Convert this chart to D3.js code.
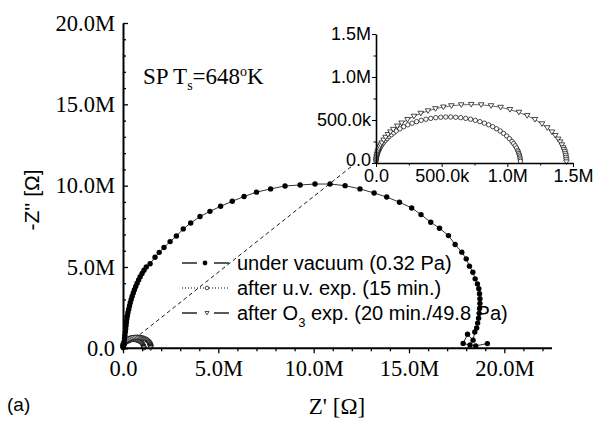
<!DOCTYPE html>
<html>
<head>
<meta charset="utf-8">
<script src="https://cdn.jsdelivr.net/npm/d3@7"></script>
<style>
  html, body { margin: 0; padding: 0; background: #fff; }
  svg { display: block; }
  .serif { font-family: "Liberation Serif", "Times New Roman", serif; }
  .sans { font-family: "Liberation Sans", Arial, sans-serif; }
</style>
</head>
<body>
<svg id="chart" width="597" height="426"></svg>
<script>
// Impedance spectra (Nyquist plot), values in MΩ
const vacuumZr = [0.02,0.04,0.06,0.08,0.10,0.12,0.14,0.16,0.18,0.20,0.23,0.26,0.30,0.34,0.38,0.43,0.48,0.54,0.60,0.67,0.74,0.82,0.90,1.00,1.10,1.22,1.42,1.68,1.90,2.15,2.47,2.80,3.16,3.55,4.04,4.56,5.12,5.73,6.35,7.00,7.74,8.50,9.29,10.07,10.86,11.65,12.43,13.17,13.83,14.50,15.14,15.63,16.14,16.60,17.07,17.42,17.77,18.00,18.17,18.35,18.47,18.59,18.66,18.70,18.72,18.72,18.70,18.68,18.65,18.60,18.55,18.45,18.36,18.07,17.84,18.20,18.50,19.11];
const vacuumZi = [0.05,0.20,0.40,0.60,0.80,1.00,1.20,1.40,1.60,1.80,2.00,2.20,2.40,2.60,2.80,3.00,3.20,3.40,3.60,3.80,4.00,4.20,4.40,4.60,4.80,5.00,5.20,5.60,5.90,6.20,6.56,6.90,7.34,7.70,8.10,8.42,8.73,9.04,9.33,9.60,9.80,9.98,10.04,10.10,10.10,10.00,9.80,9.55,9.30,8.98,8.63,8.22,7.75,7.38,6.93,6.38,5.91,5.50,5.05,4.68,4.27,3.96,3.66,3.35,3.05,2.75,2.45,2.15,1.85,1.55,1.25,1.00,0.50,0.86,0.30,0.20,0.15,0.29];

const uvZr = [0.000,0.001,0.003,0.005,0.008,0.012,0.016,0.021,0.027,0.033,0.044,0.056,0.069,0.084,0.099,0.117,0.135,0.154,0.182,0.211,0.242,0.275,0.309,0.344,0.380,0.417,0.455,0.493,0.531,0.569,0.607,0.645,0.683,0.720,0.756,0.791,0.825,0.858,0.889,0.918,0.946,0.971,0.995,1.016,1.036,1.048,1.060,1.070,1.079,1.084,1.088,1.092,1.095,1.097,1.099,1.100];
const uvZi = [0.019,0.037,0.056,0.074,0.093,0.111,0.129,0.147,0.165,0.183,0.209,0.235,0.259,0.283,0.307,0.329,0.351,0.372,0.398,0.422,0.444,0.463,0.481,0.496,0.509,0.519,0.527,0.532,0.535,0.535,0.532,0.527,0.519,0.509,0.496,0.481,0.463,0.444,0.422,0.398,0.372,0.344,0.314,0.283,0.251,0.226,0.200,0.174,0.147,0.129,0.111,0.093,0.074,0.056,0.037,0.019];

const ozoneZr = [0.000,0.002,0.004,0.007,0.011,0.016,0.022,0.028,0.035,0.044,0.058,0.073,0.091,0.110,0.131,0.162,0.195,0.240,0.289,0.341,0.396,0.453,0.513,0.574,0.649,0.725,0.801,0.876,0.949,1.020,1.088,1.151,1.210,1.264,1.304,1.340,1.365,1.387,1.402,1.415,1.425,1.431,1.437,1.441,1.445,1.447,1.449,1.450];
const ozoneZi = [0.024,0.047,0.071,0.095,0.118,0.141,0.164,0.187,0.210,0.233,0.266,0.298,0.330,0.360,0.390,0.428,0.464,0.505,0.543,0.577,0.606,0.631,0.650,0.665,0.676,0.680,0.676,0.665,0.647,0.621,0.589,0.550,0.505,0.455,0.409,0.360,0.319,0.277,0.244,0.210,0.176,0.153,0.130,0.106,0.083,0.059,0.036,0.012];

const legendLabels = ["under vacuum (0.32 Pa)", "after u.v. exp. (15 min.)", "after O3 exp. (20 min./49.8 Pa)"];

const mainTicks = [0, 5, 10, 15, 20];
const mainTickLabels = ["0.0", "5.0M", "10.0M", "15.0M", "20.0M"];
const mainMinorX = [1,2,3,4,6,7,8,9,11,12,13,14,16,17,18,19,21,22];
const mainMinorY = [1,2,3,4,6,7,8,9,11,12,13,14,16,17,18,19];
const insetTicks = [0, 0.5, 1.0, 1.5];
const insetTickLabels = ["0.0", "500.0k", "1.0M", "1.5M"];
const insetMinor = [0.25, 0.75, 1.25];

const svg = d3.select("#chart");

// ---------- main plot ----------
const x = d3.scaleLinear().domain([0, 22.5]).range([123, 552]);
const y = d3.scaleLinear().domain([0, 20]).range([348.3, 23]);

const zip = (a, b) => a.map((v, i) => [v, b[i]]);
const vacuum = zip(vacuumZr, vacuumZi);
const uv = zip(uvZr, uvZi);
const ozone = zip(ozoneZr, ozoneZi);

function triPath(cx, cy, s) {
  // downward pointing triangle
  return `M${cx - s},${cy - s * 0.75}L${cx + s},${cy - s * 0.75}L${cx},${cy + s * 0.9}Z`;
}

function drawSeries(g, sx, sy, opts) {
  const line = d3.line().x(d => sx(d[0])).y(d => sy(d[1]));
  if (opts.withVacuum) {
    g.append("path").datum(vacuum).attr("d", line)
      .attr("fill", "none").attr("stroke", "#000").attr("stroke-width", 0.8);
  }
  g.append("path").datum(uv).attr("d", line)
    .attr("fill", "none").attr("stroke", "#000").attr("stroke-width", 0.6)
    .attr("stroke-dasharray", "1,1.5");
  g.append("path").datum(ozone).attr("d", line)
    .attr("fill", "none").attr("stroke", "#000").attr("stroke-width", 0.6);

  g.append("g").selectAll("circle").data(uv).join("circle")
    .attr("cx", d => sx(d[0])).attr("cy", d => sy(d[1])).attr("r", opts.openR)
    .attr("fill", "#fff").attr("stroke", "#000").attr("stroke-width", 0.7);
  g.append("g").selectAll("path").data(ozone).join("path")
    .attr("d", d => triPath(sx(d[0]), sy(d[1]), opts.triS))
    .attr("fill", "#fff").attr("stroke", "#000").attr("stroke-width", 0.7);
  if (opts.withVacuum) {
    g.append("g").selectAll("circle").data(vacuum).join("circle")
      .attr("cx", d => sx(d[0])).attr("cy", d => sy(d[1])).attr("r", opts.dotR)
      .attr("fill", "#000");
  }
}

// dashed connector between the origin region and the enlarged view
svg.append("line")
  .attr("x1", x(0.3)).attr("y1", y(0.3))
  .attr("x2", x(12.0)).attr("y2", y(11.2))
  .attr("stroke", "#000").attr("stroke-width", 0.9)
  .attr("stroke-dasharray", "4,3");

const mainG = svg.append("g");
drawSeries(mainG, x, y, { withVacuum: true, dotR: 2.7, openR: 2.0, triS: 2.6 });

// main axes
const xAxis = svg.append("g").attr("transform", `translate(0,${y(0)})`).attr("class", "serif")
  .call(d3.axisBottom(x).tickValues(mainTicks).tickFormat((d, i) => mainTickLabels[i])
    .tickSize(5).tickSizeOuter(0).tickPadding(7));
svg.append("g").attr("transform", `translate(0,${y(0)})`)
  .call(d3.axisBottom(x).tickValues(mainMinorX).tickFormat("").tickSize(3).tickSizeOuter(0))
  .select(".domain").remove();
xAxis.select(".domain").attr("d", `M${x(0)},0H${x(22.5)}`);
xAxis.selectAll("text").attr("font-size", 22.5).attr("fill", "#000");

const yAxis = svg.append("g").attr("transform", `translate(${x(0)},0)`).attr("class", "serif")
  .call(d3.axisLeft(y).tickValues(mainTicks).tickFormat((d, i) => mainTickLabels[i])
    .tickSize(-5).tickSizeOuter(0).tickPadding(8));
svg.append("g").attr("transform", `translate(${x(0)},0)`)
  .call(d3.axisLeft(y).tickValues(mainMinorY).tickFormat("").tickSize(-3).tickSizeOuter(0))
  .select(".domain").remove();
yAxis.selectAll("text").attr("font-size", 22.5).attr("fill", "#000");

svg.selectAll(".domain").attr("stroke-width", 2);
svg.selectAll(".tick line").attr("stroke-width", 1.3);

// axis titles
svg.append("text").attr("class", "serif")
  .attr("x", 337).attr("y", 414).attr("text-anchor", "middle").attr("font-size", 23)
  .text("Z' [Ω]");
svg.append("text").attr("class", "sans")
  .attr("transform", "translate(39,200) rotate(-90)").attr("text-anchor", "middle")
  .attr("font-size", 21).text("-Z'' [Ω]");

svg.append("text").attr("class", "sans").attr("x", 7).attr("y", 411)
  .attr("font-size", 19).text("(a)");

// sample annotation
const ann = svg.append("text").attr("class", "serif").attr("x", 143).attr("y", 84).attr("font-size", 23);
ann.append("tspan").text("SP T");
ann.append("tspan").attr("font-size", 14).attr("dy", 6).text("s");
ann.append("tspan").attr("dy", -6).text("=648");
ann.append("tspan").attr("font-size", 14).attr("dy", -8).text("o");
ann.append("tspan").attr("dy", 8).text("K");

// legend
const legend = svg.append("g").attr("class", "sans");
const legRows = [263, 288, 313];
legendLabels.forEach((lab, i) => {
  const ly = legRows[i];
  if (i === 1) {
    legend.append("line").attr("x1", 182).attr("x2", 230).attr("y1", ly).attr("y2", ly)
      .attr("stroke", "#000").attr("stroke-width", 1).attr("stroke-dasharray", "1,2");
    legend.append("circle").attr("cx", 207).attr("cy", ly).attr("r", 1.8)
      .attr("fill", "#fff").attr("stroke", "#000").attr("stroke-width", 0.7);
  } else {
    legend.append("line").attr("x1", 182).attr("x2", 197).attr("y1", ly).attr("y2", ly)
      .attr("stroke", "#000").attr("stroke-width", 1.3);
    legend.append("line").attr("x1", 214).attr("x2", 229).attr("y1", ly).attr("y2", ly)
      .attr("stroke", "#000").attr("stroke-width", 1.3);
    if (i === 0) {
      legend.append("circle").attr("cx", 205).attr("cy", ly).attr("r", 2.4).attr("fill", "#000");
    } else {
      legend.append("path").attr("d", triPath(207, ly, 2.0))
        .attr("fill", "#fff").attr("stroke", "#000").attr("stroke-width", 0.7);
    }
  }
  const t = legend.append("text").attr("x", 237).attr("y", ly + 7).attr("font-size", 20);
  if (i === 2) {
    t.append("tspan").text("after O");
    t.append("tspan").attr("font-size", 13).attr("dy", 7).text("3");
    t.append("tspan").attr("dy", -7).text(" exp. (20 min./49.8 Pa)");
  } else {
    t.text(lab);
  }
});

// ---------- enlarged view (inset) ----------
const ix = d3.scaleLinear().domain([0, 1.5]).range([376, 573]);
const iy = d3.scaleLinear().domain([0, 1.5]).range([163, 34]);

const insetG = svg.append("g");
drawSeries(insetG, ix, iy, { withVacuum: false, dotR: 2.6, openR: 2.2, triS: 2.8 });

const ixAxis = svg.append("g").attr("transform", `translate(0,${iy(0)})`).attr("class", "sans")
  .call(d3.axisBottom(ix).tickValues(insetTicks).tickFormat((d, i) => insetTickLabels[i])
    .tickSize(4).tickSizeOuter(0).tickPadding(2));
const ixMinor = svg.append("g").attr("transform", `translate(0,${iy(0)})`)
  .call(d3.axisBottom(ix).tickValues(insetMinor).tickFormat("").tickSize(2.5).tickSizeOuter(0));
ixMinor.select(".domain").remove();
ixAxis.selectAll("text").attr("font-size", 18).attr("fill", "#000");

const iyAxis = svg.append("g").attr("transform", `translate(${ix(0)},0)`).attr("class", "sans")
  .call(d3.axisLeft(iy).tickValues(insetTicks).tickFormat((d, i) => insetTickLabels[i])
    .tickSize(4).tickSizeOuter(0).tickPadding(1));
const iyMinor = svg.append("g").attr("transform", `translate(${ix(0)},0)`)
  .call(d3.axisLeft(iy).tickValues(insetMinor).tickFormat("").tickSize(2.5).tickSizeOuter(0));
iyMinor.select(".domain").remove();
iyAxis.selectAll("text").attr("font-size", 18).attr("fill", "#000");
// lift the zero label so it clears the horizontal axis labels
iyAxis.selectAll(".tick").filter(d => d === 0).select("text").attr("dy", "0.12em");

ixAxis.select(".domain").attr("stroke-width", 1.6);
iyAxis.select(".domain").attr("stroke-width", 1.6);
</script>
</body>
</html>
